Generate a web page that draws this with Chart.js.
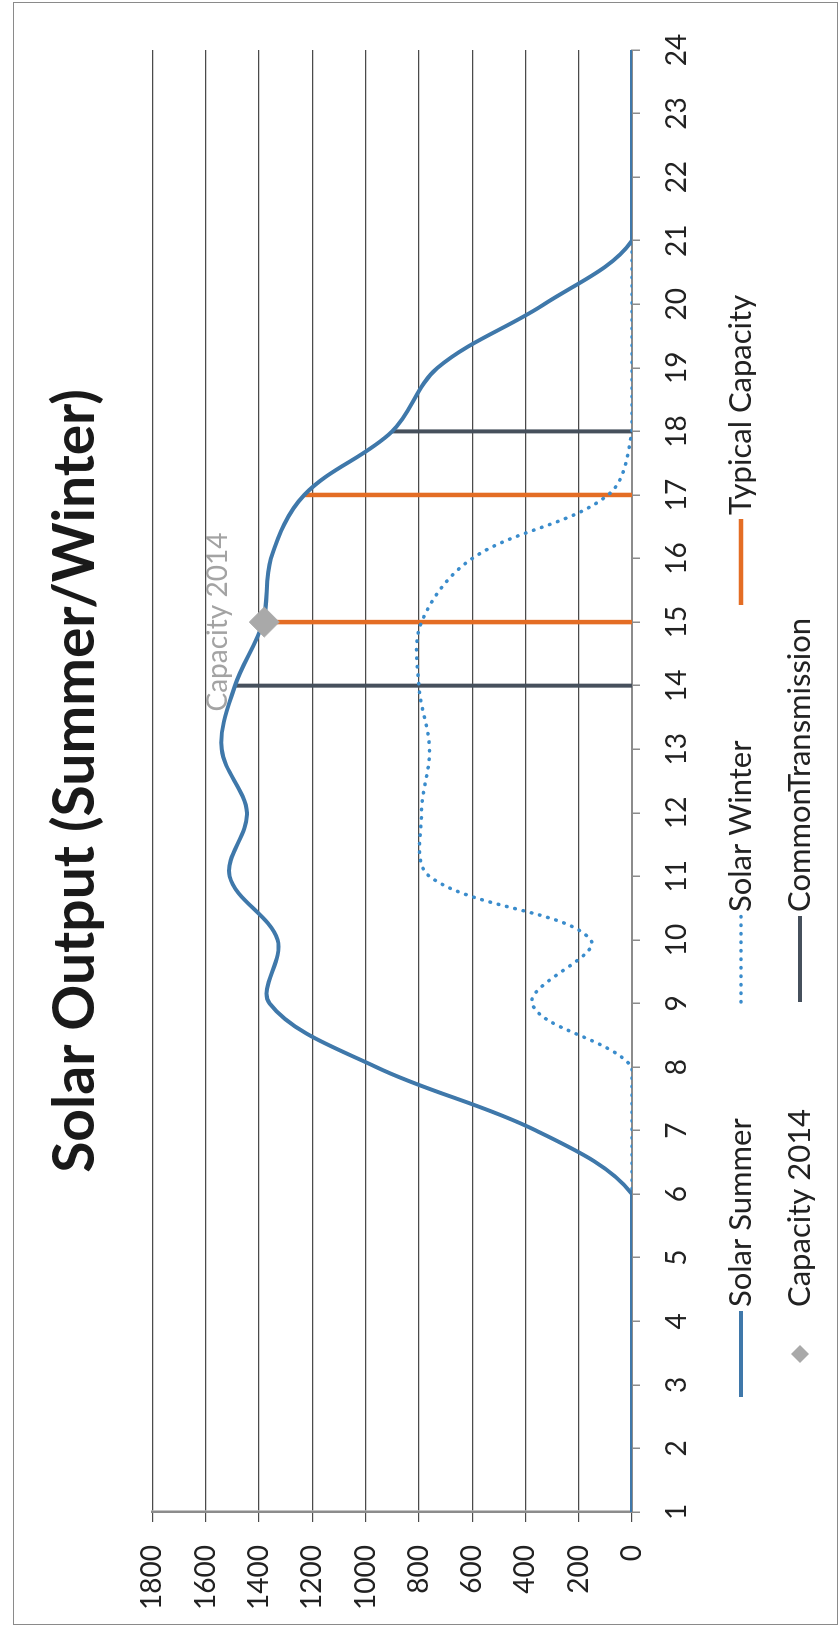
<!DOCTYPE html>
<html>
<head>
<meta charset="utf-8">
<title>Solar Output (Summer/Winter)</title>
<script src="https://cdn.jsdelivr.net/npm/chart.js@4.4.1/dist/chart.umd.min.js"></script>
<style>
    html, body { margin: 0; padding: 0; background: #fff; overflow: hidden; }
    /* the chart is laid out landscape and turned a quarter to the left */
    #page {
        position: absolute; left: 0; top: 0;
        width: 1637px; height: 840px;
        transform-origin: 0 0;
        transform: translateY(1637px) rotate(-90deg);
        background: #fff;
    }
    #frame {
        position: absolute; left: 12px; top: 13px;
        width: 1621px; height: 823px;
        border: 1.5px solid #8a8a8a;
    }
    #chart { position: absolute; left: 0; top: 0; }
</style>
</head>
<body>
<div id="page">
    <div id="frame"></div>
    <canvas id="chart" width="1637" height="840"></canvas>
</div>
<script>
const hours = [1, 2, 3, 4, 5, 6, 7, 8, 9, 10, 11, 12, 13, 14, 15, 16, 17, 18, 19, 20, 21, 22, 23, 24];
const valueTicks = [0, 200, 400, 600, 800, 1000, 1200, 1400, 1600, 1800];

const solarSummer = [0, 0, 0, 0, 0, 0, 360, 960, 1360, 1330, 1510, 1445, 1540, 1490, 1385, 1355, 1230, 900, 730, 330, 0, 0, 0, 0];
const solarWinter = [0, 0, 0, 0, 0, 0, 0, 0, 375, 155, 760, 790, 760, 800, 790, 600, 90, 0, 0, 0, 0, 0, 0, 0];

const typicalCapacityHours = [15, 17];
const typicalCapacityValues = [1380, 1230];

const capacity2014Hours = [15];
const capacity2014Values = [1380];

const transmissionHours = [14, 18];
const transmissionValues = [1490, 900];

const FONT = 'Lato';
Chart.defaults.font.family = FONT;
Chart.defaults.color = '#222';

function seriesPoints(xs, ys) {
    return xs.map((x, i) => ({ x: x, y: ys[i] }));
}

// each hour gets a drop line from zero up to its value, broken between hours
function dropLines(xs, ys) {
    const pts = [];
    xs.forEach((x, i) => {
        if (i > 0) {
            pts.push({ x: x, y: null });
        }
        pts.push({ x: x, y: 0 }, { x: x, y: ys[i] });
    });
    return pts;
}

const datasets = [
    {
        label: 'Solar Summer',
        data: seriesPoints(hours, solarSummer),
        borderColor: '#3f78aa',
        backgroundColor: '#3f78aa',
        borderWidth: 4,
        tension: 0.35,
        pointRadius: 0,
        order: 1,
    },
    {
        label: 'Solar Winter',
        data: seriesPoints(hours, solarWinter),
        borderColor: '#3a8ccc',
        backgroundColor: '#3a8ccc',
        borderWidth: 3.5,
        borderDash: [0.5, 8],
        borderCapStyle: 'round',
        tension: 0.35,
        pointRadius: 0,
        order: 2,
    },
    {
        label: 'Typical Capacity',
        data: dropLines(typicalCapacityHours, typicalCapacityValues),
        borderColor: '#e46d24',
        backgroundColor: '#e46d24',
        borderWidth: 4.5,
        tension: 0,
        spanGaps: false,
        pointRadius: 0,
        order: 3,
    },
    {
        label: 'Capacity 2014',
        data: seriesPoints(capacity2014Hours, capacity2014Values),
        borderColor: '#a9a9a9',
        backgroundColor: '#a9a9a9',
        showLine: false,
        pointStyle: 'rectRot',
        pointRadius: 15,
        pointBorderWidth: 1,
        order: 0,
    },
    {
        label: 'CommonTransmission',
        data: dropLines(transmissionHours, transmissionValues),
        borderColor: '#46505c',
        backgroundColor: '#46505c',
        borderWidth: 4,
        tension: 0,
        spanGaps: false,
        pointRadius: 0,
        order: 4,
    },
];

// "Capacity 2014" written just above its marker
const pointLabel = {
    id: 'pointLabel',
    afterDatasetsDraw(chart) {
        const ctx = chart.ctx;
        const meta = chart.getDatasetMeta(3);
        ctx.save();
        ctx.font = '28px ' + FONT;
        ctx.fillStyle = '#a3a3a3';
        ctx.textAlign = 'center';
        ctx.textBaseline = 'middle';
        meta.data.forEach((pt) => {
            ctx.fillText(chart.data.datasets[3].label, pt.x, pt.y - 46);
        });
        ctx.restore();
    }
};

// legend laid out as a grid of three columns under the axis
const gridLegend = {
    id: 'gridLegend',
    afterDraw(chart) {
        const ctx = chart.ctx;
        const columns = [240, 635, 1032];
        const rows = [741, 800];
        const sample = 86;
        ctx.save();
        ctx.font = '31px ' + FONT;
        ctx.textBaseline = 'middle';
        ctx.textAlign = 'left';
        chart.data.datasets.forEach((ds, i) => {
            const x = columns[i % 3];
            const y = rows[Math.floor(i / 3)];
            if (ds.showLine === false) {
                const cx = x + sample / 2;
                ctx.fillStyle = ds.backgroundColor;
                ctx.beginPath();
                ctx.moveTo(cx, y - 9);
                ctx.lineTo(cx + 9, y);
                ctx.lineTo(cx, y + 9);
                ctx.lineTo(cx - 9, y);
                ctx.closePath();
                ctx.fill();
            } else {
                ctx.strokeStyle = ds.borderColor;
                ctx.lineWidth = ds.borderWidth;
                ctx.lineCap = ds.borderCapStyle || 'butt';
                ctx.setLineDash(ds.borderDash || []);
                ctx.beginPath();
                ctx.moveTo(x, y);
                ctx.lineTo(x + sample, y);
                ctx.stroke();
                ctx.setLineDash([]);
            }
            ctx.fillStyle = '#222';
            ctx.fillText(ds.label, x + sample + 4, y);
        });
        ctx.restore();
    }
};

const ctx = document.getElementById('chart');

const chart = new Chart(ctx, {
    type: 'line',
    data: { datasets: datasets },
    plugins: [pointLabel, gridLegend],
    options: {
        responsive: false,
        animation: false,
        layout: {
            padding: { left: 25, right: 50, top: 0, bottom: 150 },
        },
        plugins: {
            legend: { display: false },
            tooltip: { enabled: false },
            title: {
                display: true,
                text: 'Solar Output (Summer/Winter)',
                fullSize: false,
                color: '#1a1a1a',
                font: { size: 57, weight: 'bold', lineHeight: 1.2 },
                padding: { top: 41, bottom: 43 },
            },
        },
        scales: {
            x: {
                type: 'linear',
                min: 1,
                max: 24,
                afterBuildTicks: (scale) => {
                    scale.ticks = hours.map((h) => ({ value: h }));
                },
                afterFit: (scale) => {
                    scale.height = 58;
                },
                grid: {
                    drawOnChartArea: false,
                    drawTicks: true,
                    tickLength: 8,
                    color: '#8c8c8c',
                    lineWidth: 1.5,
                },
                border: { display: true, color: '#8c8c8c', width: 2 },
                ticks: {
                    color: '#222',
                    padding: 20,
                    maxRotation: 0,
                    autoSkip: false,
                    font: { size: 28 },
                },
            },
            y: {
                min: 0,
                max: 1800,
                afterBuildTicks: (scale) => {
                    scale.ticks = valueTicks.map((v) => ({ value: v }));
                },
                afterFit: (scale) => {
                    scale.width = 100;
                },
                grid: {
                    color: '#4a4a4a',
                    lineWidth: 1.2,
                    drawTicks: true,
                    tickLength: 10,
                },
                border: { display: true, color: '#8c8c8c', width: 2.5 },
                ticks: {
                    color: '#222',
                    padding: 23,
                    autoSkip: false,
                    font: { size: 28 },
                    callback: (value) => String(value),
                },
            },
        },
    },
});
</script>
</body>
</html>
